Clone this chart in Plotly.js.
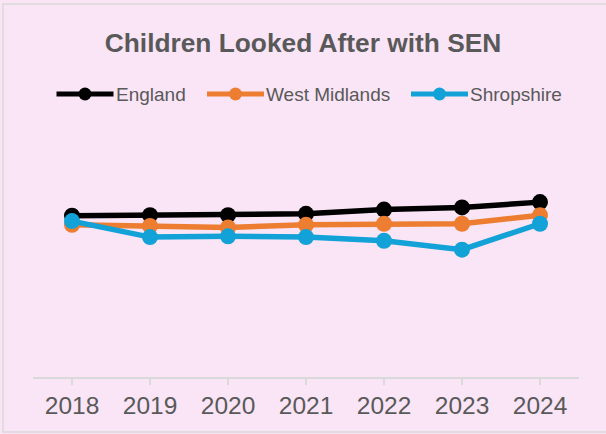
<!DOCTYPE html>
<html>
<head>
<meta charset="utf-8">
<script src="https://cdn.plot.ly/plotly-3.0.1.min.js"></script>
<style>
html,body{margin:0;padding:0;background:#F9E5F6;}
#chart{width:606px;height:434px;}
</style>
</head>
<body>
<div id="chart"></div>
<script>
const years = ["2018","2019","2020","2021","2022","2023","2024"];
const england = [60.4, 60.6, 60.6, 61.1, 62.7, 63.5, 65.5];
const westMidlands = [57.0, 56.6, 56.0, 57.0, 57.4, 57.4, 60.6];
const shropshire = [58.4, 52.4, 52.7, 52.4, 51.0, 47.7, 57.4];

const seriesNames = ["England", "West Midlands", "Shropshire"];
const seriesColors = ["#000000", "#ED7D31", "#12A2D8"];
const seriesValues = [england, westMidlands, shropshire];

const traces = seriesValues.map((vals, i) => ({
  type: "scatter",
  mode: "lines+markers",
  name: seriesNames[i],
  x: years,
  y: vals,
  line: {color: seriesColors[i], width: 5.5},
  marker: {color: seriesColors[i], size: 16},
  hoverinfo: "x+y+name",
  showlegend: false
}));

// Custom legend geometry (pixels), converted to paper coordinates
const W = 606, H = 434, M = {l: 33, r: 27, t: 110, b: 57};
const pw = W - M.l - M.r, ph = H - M.t - M.b;
const px = v => (v - M.l) / pw;
const py = v => (H - M.b - v) / ph;
const legY = 94;
const legLineStart = [56.5, 207, 411];
const legLineLen = 57;

const shapes = [{
  type: "rect", xref: "paper", yref: "paper",
  x0: px(3), x1: px(620), y0: py(432), y1: py(4),
  line: {color: "#D9D9D9", width: 1.5},
  fillcolor: "rgba(0,0,0,0)",
  layer: "below"
}];
const annotations = [];
seriesNames.forEach((name, i) => {
  const x0 = legLineStart[i];
  shapes.push({
    type: "line", xref: "paper", yref: "paper",
    x0: px(x0), x1: px(x0 + legLineLen), y0: py(legY), y1: py(legY),
    line: {color: seriesColors[i], width: 5}
  });
  shapes.push({
    type: "circle", xref: "paper", yref: "paper",
    xsizemode: "pixel", ysizemode: "pixel",
    xanchor: px(x0 + legLineLen / 2), yanchor: py(legY),
    x0: -6.5, x1: 6.5, y0: -6.5, y1: 6.5,
    fillcolor: seriesColors[i], line: {width: 0}
  });
  annotations.push({
    xref: "paper", yref: "paper",
    x: px(x0 + legLineLen + 1), y: py(legY),
    xanchor: "left", yanchor: "middle",
    text: name, showarrow: false,
    font: {family: "Liberation Sans, Arial, sans-serif", size: 19, color: "#595959"},
    borderpad: 0
  });
});

const layout = {
  width: W,
  height: H,
  paper_bgcolor: "#F9E5F6",
  plot_bgcolor: "#F9E5F6",
  margin: M,
  title: {
    text: "<b>Children Looked After with SEN</b>",
    font: {family: "Liberation Sans, Arial, sans-serif", size: 26.3, color: "#595959"},
    x: 0.5, xanchor: "center",
    y: 0.902, yanchor: "middle", yref: "container"
  },
  showlegend: false,
  xaxis: {
    type: "category",
    range: [-0.5, 6.5],
    showgrid: false,
    zeroline: false,
    showline: true,
    linecolor: "#D9D9D9",
    linewidth: 2,
    ticks: "outside",
    ticklen: 6,
    tickcolor: "#D9D9D9",
    tickwidth: 2,
    tickfont: {family: "Liberation Sans, Arial, sans-serif", size: 24.5, color: "#595959"},
    fixedrange: true
  },
  yaxis: {
    range: [0, 100],
    showgrid: false,
    zeroline: false,
    showline: false,
    showticklabels: false,
    ticks: "",
    fixedrange: true
  },
  shapes: shapes,
  annotations: annotations
};

Plotly.newPlot("chart", traces, layout, {displayModeBar: false, staticPlot: true});
</script>
</body>
</html>
